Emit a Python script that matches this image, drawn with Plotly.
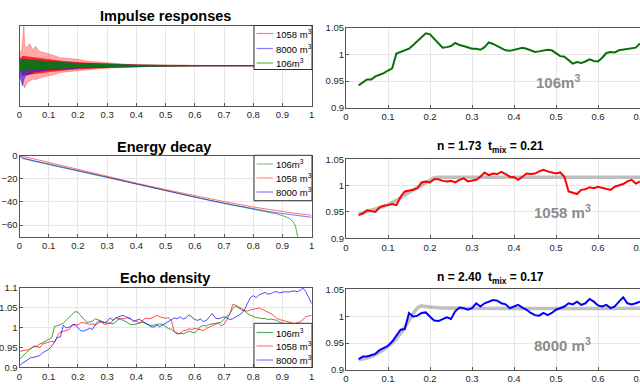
import plotly.graph_objects as go

W, H = 640, 384
def px(x): return x / W
def py(y): return 1 - y / H

# ---------------- data ----------------
# impulse responses: upper / lower envelopes
ir_t_1058 = [0, 0.003, 0.008, 0.012, 0.015, 0.018, 0.025, 0.035, 0.045, 0.055, 0.07, 0.085, 0.1, 0.12, 0.14, 0.17, 0.2, 0.23, 0.26, 0.3, 0.36, 0.42, 0.5, 0.6, 0.7, 1.0]
ir_1058_up = [0, 0.35, 0.40, 0.70, 1.00, 0.50, 0.45, 0.55, 0.40, 0.48, 0.35, 0.33, 0.29, 0.25, 0.20, 0.18, 0.16, 0.12, 0.10, 0.065, 0.04, 0.025, 0.012, 0.006, 0.003, 0.001]
ir_1058_lo = [0, -0.30, -0.35, -0.45, -0.50, -0.55, -0.42, -0.38, -0.33, -0.35, -0.30, -0.27, -0.25, -0.22, -0.17, -0.15, -0.12, -0.10, -0.08, -0.06, -0.035, -0.022, -0.012, -0.006, -0.003, -0.001]
# dense (solid-looking) core of the 1058 m3 response
ir_t_1058_core = [0, 0.01, 0.03, 0.05, 0.1, 0.15, 0.2, 0.3, 0.4, 0.5, 0.7, 1.0]
ir_1058_core_up = [0, 0.24, 0.22, 0.2, 0.15, 0.11, 0.08, 0.045, 0.02, 0.01, 0.003, 0.001]
ir_1058_core_lo = [0, -0.24, -0.22, -0.2, -0.15, -0.11, -0.08, -0.045, -0.02, -0.01, -0.003, -0.001]
ir_t_8000 = [0, 0.003, 0.01, 0.015, 0.02, 0.05, 0.1, 0.2, 0.3, 0.4, 0.5, 0.7, 1.0]
ir_8000_up = [0, 0.20, 0.15, 0.16, 0.15, 0.13, 0.10, 0.06, 0.035, 0.018, 0.009, 0.003, 0.001]
ir_8000_lo = [0, -0.30, -0.50, -0.35, -0.25, -0.15, -0.10, -0.06, -0.035, -0.018, -0.009, -0.003, -0.001]
ir_t_106 = [0, 0.003, 0.05, 0.1, 0.15, 0.2, 0.25, 0.3, 0.4, 0.5, 0.6, 1.0]
ir_106_up = [0, 0.15, 0.13, 0.10, 0.08, 0.06, 0.045, 0.03, 0.015, 0.008, 0.004, 0.001]
ir_106_lo = [0, -0.12, -0.10, -0.07, -0.06, -0.05, -0.04, -0.03, -0.015, -0.008, -0.004, -0.001]

# energy decay (dB)
ed_t = [0, 0.01, 0.05, 0.1, 0.2, 0.3, 0.4, 0.5, 0.6, 0.7, 0.8, 0.85, 0.9, 0.95, 1.0]
ed_1058 = [0, -0.6, -3.0, -5.8, -11.6, -17.8, -23.8, -29.4, -34.8, -39.7, -44.4, -46.5, -48.5, -50.1, -51.5]
ed_8000 = [0, -2.0, -4.5, -7.2, -12.8, -18.6, -24.5, -30.3, -36.0, -41.1, -46.0, -48.1, -50.0, -51.8, -53.3]
ed_t_106 = [0, 0.01, 0.05, 0.1, 0.2, 0.3, 0.4, 0.5, 0.6, 0.7, 0.8, 0.85, 0.88, 0.9, 0.92, 0.93, 0.94, 0.945, 0.95, 0.955, 0.96]
ed_106 = [0, -2.5, -5.0, -7.8, -13.3, -19.1, -25.1, -30.6, -36.1, -41.3, -46.3, -48.6, -50.3, -51.8, -53.7, -55.5, -58.5, -61.5, -66.0, -72.0, -80.0]

# echo density, t = 0.00 ... 1.00 step 0.01
echo_t = [round(i * 0.01, 2) for i in range(101)]
echo_106 = [0.920, 0.928, 0.935, 0.942, 0.948, 0.953, 0.953, 0.959, 0.962, 0.965,
            0.970, 0.974, 1.002, 1.005, 1.007, 1.011, 1.018, 1.026, 1.032, 1.040,
            1.038, 1.030, 1.021, 1.013, 1.014, 1.016, 1.022, 1.018, 1.016, 1.013,
            1.011, 1.011, 1.009, 1.014, 1.023, 1.020, 1.016, 1.013, 1.008, 1.007,
            1.009, 1.011, 1.013, 1.011, 1.008, 1.005, 1.006, 1.008, 1.009, 1.008,
            1.002, 0.997, 0.996, 0.989, 0.983, 0.986, 0.984, 0.987, 0.991, 0.988,
            0.987, 0.994, 1.003, 1.005, 1.004, 1.008, 1.009, 1.011, 1.011, 1.013,
            1.021, 1.028, 1.035, 1.048, 1.054, 1.049, 1.048, 1.043, 1.035, 1.031,
            1.027, 1.025, 1.024, 1.022, 1.023, 1.020, 1.021, 1.019, 1.018, 1.014,
            1.010, 1.008, 1.005, 1.003, 1.001, 1.000, 0.998, 0.997, 0.996, 0.995,
            0.995]
echo_1058 = [0.940, 0.942, 0.943, 0.944, 0.947, 0.953, 0.952, 0.950, 0.959, 0.962,
             0.963, 0.965, 0.963, 0.979, 0.989, 0.990, 0.992, 0.995, 1.006, 1.008,
             1.006, 1.012, 1.012, 1.009, 1.008, 1.009, 1.006, 1.011, 1.014, 1.008,
             1.009, 1.011, 1.017, 1.025, 1.020, 1.023, 1.022, 1.026, 1.022, 1.017,
             1.016, 1.011, 1.017, 1.023, 1.022, 1.023, 1.027, 1.030, 1.027, 1.025,
             1.023, 1.025, 1.017, 0.989, 0.987, 0.984, 0.992, 0.993, 0.997, 0.995,
             0.998, 0.996, 0.995, 0.992, 0.998, 1.001, 1.003, 1.008, 1.011, 1.004,
             1.008, 1.020, 1.035, 1.058, 1.056, 1.052, 1.043, 1.042, 1.041, 1.044,
             1.046, 1.047, 1.049, 1.046, 1.043, 1.040, 1.035, 1.030, 1.023, 1.020,
             1.018, 1.016, 1.014, 1.012, 1.010, 1.012, 1.014, 1.020, 1.027, 1.029,
             1.031]
echo_8000 = [0.905, 0.910, 0.915, 0.920, 0.925, 0.925, 0.927, 0.930, 0.937, 0.941,
             0.945, 0.953, 0.965, 0.975, 0.976, 1.006, 0.999, 1.001, 1.006, 1.007,
             0.999, 0.992, 0.991, 0.995, 0.998, 0.995, 1.009, 1.016, 1.015, 1.012,
             1.015, 1.024, 1.018, 1.024, 1.027, 1.030, 1.029, 1.024, 1.022, 1.015,
             1.018, 1.021, 1.016, 1.012, 1.006, 1.002, 1.001, 1.006, 1.002, 1.006,
             1.012, 1.015, 1.018, 1.024, 1.022, 1.027, 1.021, 1.024, 1.032, 1.027,
             1.020, 1.018, 1.021, 1.015, 1.018, 1.027, 1.035, 1.024, 1.022, 1.024,
             1.027, 1.024, 1.020, 1.022, 1.026, 1.030, 1.035, 1.045, 1.060, 1.075,
             1.080, 1.075, 1.082, 1.086, 1.088, 1.084, 1.085, 1.089, 1.090, 1.087,
             1.088, 1.090, 1.089, 1.091, 1.092, 1.090, 1.093, 1.099, 1.090, 1.075,
             1.060]

# fitted mixing curves
fit_t_1058 = [0.03, 0.05, 0.08, 0.10, 0.12, 0.14, 0.16, 0.18, 0.20, 0.21, 0.22, 0.25, 0.70]
fit_1058 = [0.946, 0.951, 0.958, 0.964, 0.972, 0.982, 0.992, 1.001, 1.010, 1.015, 1.016, 1.016, 1.016]
fit_t_8000 = [0.03, 0.06, 0.09, 0.11, 0.13, 0.15, 0.16, 0.17, 0.18, 0.19, 0.20, 0.22, 0.70]
fit_8000 = [0.919, 0.925, 0.938, 0.950, 0.968, 0.992, 1.005, 1.015, 1.019, 1.018, 1.017, 1.0155, 1.015]

R_START, R_END = 3, 71  # right panels show t = 0.03 ... 0.70

C_RED = 'rgba(255,0,0,0.55)'
C_BLUE = 'rgba(0,0,255,0.55)'
C_GREEN = 'rgba(0,128,0,0.65)'

fig = go.Figure()

# ---- impulse responses
for t, up, lo, col, fcol in [(ir_t_1058, ir_1058_up, ir_1058_lo, 'rgba(255,0,0,0.45)', 'rgba(255,40,40,0.4)'),
                             (ir_t_1058_core, ir_1058_core_up, ir_1058_core_lo, 'rgba(255,0,0,0.8)', 'rgba(255,0,0,0.8)'),
                             (ir_t_8000, ir_8000_up, ir_8000_lo, 'rgba(0,0,255,0.6)', 'rgba(30,30,255,0.6)'),
                             (ir_t_106, ir_106_up, ir_106_lo, 'rgba(0,128,0,0.9)', 'rgba(0,128,0,0.85)')]:
    fig.add_trace(go.Scatter(x=t + t[::-1], y=up + lo[::-1], fill='toself',
                             fillcolor=fcol, line=dict(color=col, width=0.6),
                             mode='lines', showlegend=False, xaxis='x', yaxis='y'))

# ---- energy decay
fig.add_trace(go.Scatter(x=ed_t_106, y=ed_106, mode='lines', line=dict(color=C_GREEN, width=1),
                         showlegend=False, xaxis='x3', yaxis='y3'))
fig.add_trace(go.Scatter(x=ed_t, y=ed_1058, mode='lines', line=dict(color=C_RED, width=1),
                         showlegend=False, xaxis='x3', yaxis='y3'))
fig.add_trace(go.Scatter(x=ed_t, y=ed_8000, mode='lines', line=dict(color=C_BLUE, width=1),
                         showlegend=False, xaxis='x3', yaxis='y3'))

# ---- echo density (left)
for ys, col in [(echo_106, 'rgba(0,128,0,0.75)'), (echo_1058, 'rgba(255,0,0,0.7)'), (echo_8000, 'rgba(0,0,255,0.7)')]:
    fig.add_trace(go.Scatter(x=echo_t, y=ys, mode='lines', line=dict(color=col, width=1),
                             showlegend=False, xaxis='x5', yaxis='y5'))

# ---- right panels
fig.add_trace(go.Scatter(x=echo_t[R_START:R_END], y=echo_106[R_START:R_END], mode='lines',
                         line=dict(color='#0a6e0a', width=2), showlegend=False, xaxis='x2', yaxis='y2'))
fig.add_trace(go.Scatter(x=fit_t_1058, y=fit_1058, mode='lines', line=dict(color='rgba(170,170,170,0.75)', width=3.5, shape='spline'),
                         showlegend=False, xaxis='x4', yaxis='y4'))
fig.add_trace(go.Scatter(x=echo_t[R_START:R_END], y=echo_1058[R_START:R_END], mode='lines',
                         line=dict(color='#ff0000', width=2), showlegend=False, xaxis='x4', yaxis='y4'))
fig.add_trace(go.Scatter(x=fit_t_8000, y=fit_8000, mode='lines', line=dict(color='rgba(170,170,170,0.75)', width=3.5, shape='spline'),
                         showlegend=False, xaxis='x6', yaxis='y6'))
fig.add_trace(go.Scatter(x=echo_t[R_START:R_END], y=echo_8000[R_START:R_END], mode='lines',
                         line=dict(color='#0000ff', width=2), showlegend=False, xaxis='x6', yaxis='y6'))

FONT = 'Liberation Sans, Arial, sans-serif'
TICKFONT = 'Liberation Sans Narrow, Arial Narrow, Liberation Sans, sans-serif'
ax = dict(showline=True, linecolor='#555555', linewidth=1, mirror=True, ticks='inside', ticklen=3,
          tickcolor='#555555', showgrid=True, gridcolor='#e6e6e6', gridwidth=1, zeroline=False,
          automargin=False, ticklabeloverflow='allow',
          tickfont=dict(family=TICKFONT, size=9.5, color='#262626'))
yax = dict(ax, ticklabelstandoff=-1)

L = [px(19.5), px(311.7)]
R = [px(346), 1.0]
lt = [0, 1]
rt = [0, 0.7]
xt_left = dict(tickmode='linear', tick0=0, dtick=0.1)
rows = {
    1: ([py(106), py(25.5)], [py(107.7), py(28)]),
    2: ([py(236.7), py(155.5)], [py(238.3), py(159.3)]),
    3: ([py(367.3), py(287.7)], [py(370), py(289.3)]),
}
ry = dict(range=[0.9, 1.05], tickvals=[0.9, 0.95, 1, 1.05], ticktext=['0.9', '0.95', '1', '1.05'])

layout = dict(
    width=W, height=H, margin=dict(l=0, r=0, t=0, b=0, autoexpand=False),
    paper_bgcolor='white', plot_bgcolor='white', showlegend=False,
    xaxis=dict(ax, domain=L, range=lt, anchor='y', **xt_left),
    yaxis=dict(yax, domain=rows[1][0], range=[-1, 1], anchor='x', showticklabels=False, showgrid=False, ticks=''),
    xaxis2=dict(ax, domain=R, range=rt, anchor='y2', **xt_left),
    yaxis2=dict(yax, domain=rows[1][1], anchor='x2', mirror=False, **ry),
    xaxis3=dict(ax, domain=L, range=lt, anchor='y3', **xt_left),
    yaxis3=dict(yax, domain=rows[2][0], range=[-70, 0], anchor='x3', tickvals=[-60, -40, -20, 0]),
    xaxis4=dict(ax, domain=R, range=rt, anchor='y4', **xt_left),
    yaxis4=dict(yax, domain=rows[2][1], anchor='x4', mirror=False, **ry),
    xaxis5=dict(ax, domain=L, range=lt, anchor='y5', **xt_left),
    yaxis5=dict(yax, domain=rows[3][0], range=[0.9, 1.1], anchor='x5',
                tickvals=[0.9, 0.95, 1, 1.05, 1.1], ticktext=['0.9', '0.95', '1', '1.05', '1.1']),
    xaxis6=dict(ax, domain=R, range=rt, anchor='y6', **xt_left),
    yaxis6=dict(yax, domain=rows[3][1], anchor='x6', mirror=False, **ry),
)
fig.update_layout(**layout)

ann = []
shapes = []
def text(x, y, s, size, color='#000000', xanchor='center', bold=False):
    ann.append(dict(x=px(x), y=py(y), xref='paper', yref='paper', text=('<b>%s</b>' % s) if bold else s,
                    showarrow=False, xanchor=xanchor, yanchor='middle',
                    font=dict(family=FONT, size=size, color=color)))

# titles
text(165, 15.5, 'Impulse responses', 14.5, bold=True)
text(164, 147.5, 'Energy decay', 14.5, bold=True)
text(165, 278, 'Echo density', 14.5, bold=True)
text(490.5, 147, 'n = 1.73 &nbsp;t<sub>mix</sub> = 0.21', 12, bold=True)
text(490.5, 278, 'n = 2.40 &nbsp;t<sub>mix</sub> = 0.17', 12, bold=True)

# room labels
GRAY = '#8c8c8c'
text(557.5, 81.5, '106m<sup>3</sup>', 15, GRAY, bold=True)
text(562, 211.5, '1058 m<sup>3</sup>', 15, GRAY, bold=True)
text(562, 344, '8000 m<sup>3</sup>', 15, GRAY, bold=True)

# custom legends
def legend(box, items):
    x0, y0, x1, y1 = box
    shapes.append(dict(type='rect', xref='paper', yref='paper', x0=px(x0), x1=px(x1), y0=py(y0), y1=py(y1),
                       fillcolor='white', line=dict(color='#333333', width=1), layer='above'))
    for (yy, label, col) in items:
        shapes.append(dict(type='line', xref='paper', yref='paper', x0=px(x0 + 2.5), x1=px(x0 + 19),
                           y0=py(yy), y1=py(yy), line=dict(color=col, width=1.2), layer='above'))
        text(x0 + 20, yy, label, 9.5, '#000000', xanchor='left')

legend((254, 25.5, 312, 69.5), [(33.5, '1058 m<sup>3</sup>', 'rgba(255,0,0,0.5)'),
                                (48.5, '8000 m<sup>3</sup>', 'rgba(0,0,255,0.5)'),
                                (63.0, '106m<sup>3</sup>', 'rgba(0,128,0,0.6)')])
legend((254, 155.3, 312, 200.7), [(164.0, '106m<sup>3</sup>', 'rgba(0,128,0,0.45)'),
                                  (178.0, '1058 m<sup>3</sup>', 'rgba(255,0,0,0.45)'),
                                  (192.0, '8000 m<sup>3</sup>', 'rgba(0,0,255,0.5)')])
legend((254, 323.3, 312, 367.5), [(332.5, '106m<sup>3</sup>', 'rgba(0,128,0,0.65)'),
                                  (346.0, '1058 m<sup>3</sup>', 'rgba(255,0,0,0.5)'),
                                  (360.0, '8000 m<sup>3</sup>', 'rgba(0,0,255,0.5)')])

fig.update_layout(annotations=ann, shapes=shapes)
# remove the browser's default 8px page margin so the figure fills the window exactly
fig.write_html('out.html', config={'displayModeBar': False},
               post_script="document.body.style.margin='0px';document.body.style.overflow='hidden';")
